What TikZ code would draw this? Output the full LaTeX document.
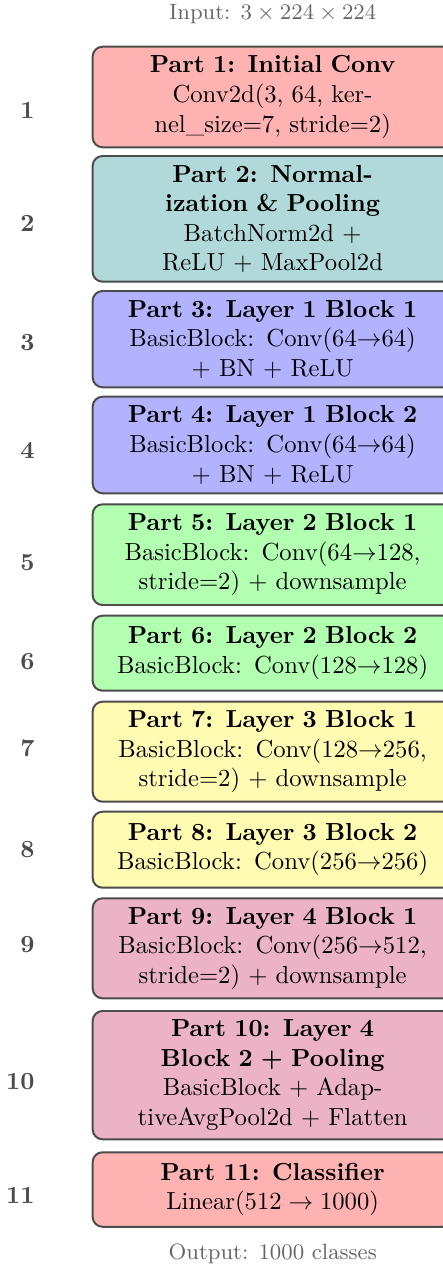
\documentclass[tikz,border=0pt]{standalone}
\usetikzlibrary{positioning}
\def\pxu{0.4057pt}
\begin{document}
\begin{tikzpicture}[x=0.4057pt,y=-0.4057pt,
  part/.style={draw=black!70, line width=0.8pt, rounded corners=4pt,
    text width=142pt, inner xsep=2pt, inner ysep=0pt, align=center, font=\normalsize},
  num/.style={anchor=east, inner sep=0pt, font=\bfseries, text=black!70},
  io/.style={inner sep=0pt, anchor=base, text=black!60, font=\small}]
\useasboundingbox (0,0) rectangle (443,1272);
\node[io] (in) at (272.7,20) {Input: $3 \times 224 \times 224$};
\node[part, fill=red!30, minimum height={100.6*\pxu}] (p1) at (272.6,97) {\textbf{Part 1: Initial Conv}\\Conv2d(3, 64, kernel\_size=7, stride=2)};
\node[part, fill=teal!30, minimum height={125.7*\pxu}] (p2) at (272.6,218.85) {\textbf{Part 2: Normalization \& Pooling}\\BatchNorm2d + ReLU + MaxPool2d};
\node[part, fill=blue!30, minimum height={96.3*\pxu}] (p3) at (272.6,339.15) {\textbf{Part 3: Layer 1 Block 1}\\BasicBlock: Conv(64$\rightarrow$64) + BN + ReLU};
\node[part, fill=blue!30, minimum height={96.6*\pxu}] (p4) at (272.6,445) {\textbf{Part 4: Layer 1 Block 2}\\BasicBlock: Conv(64$\rightarrow$64) + BN + ReLU};
\node[part, fill=green!30, minimum height={100.7*\pxu}] (p5) at (272.6,554.65) {\textbf{Part 5: Layer 2 Block 1}\\BasicBlock: Conv(64$\rightarrow$128, stride=2) + downsample};
\node[part, fill=green!30, minimum height={75*\pxu}] (p6) at (272.6,653.2) {\textbf{Part 6: Layer 2 Block 2}\\BasicBlock: Conv(128$\rightarrow$128)};
\node[part, fill=yellow!30, minimum height={100*\pxu}] (p7) at (272.6,751.7) {\textbf{Part 7: Layer 3 Block 1}\\BasicBlock: Conv(128$\rightarrow$256, stride=2) + downsample};
\node[part, fill=yellow!30, minimum height={76*\pxu}] (p8) at (272.6,849.7) {\textbf{Part 8: Layer 3 Block 2}\\BasicBlock: Conv(256$\rightarrow$256)};
\node[part, fill=purple!30, minimum height={100*\pxu}] (p9) at (272.6,948.3) {\textbf{Part 9: Layer 4 Block 1}\\BasicBlock: Conv(256$\rightarrow$512, stride=2) + downsample};
\node[part, fill=purple!30, minimum height={128.3*\pxu}] (p10) at (272.6,1075.15) {\textbf{Part 10: Layer 4 Block 2 + Pooling}\\BasicBlock + AdaptiveAvgPool2d + Flatten};
\node[part, fill=red!30, minimum height={74.5*\pxu}] (p11) at (272.6,1189.5) {\textbf{Part 11: Classifier}\\Linear($512\mskip5mu{\rightarrow}\mskip5mu1000$)};
\node[io] (out) at (272.7,1259.5) {Output: 1000 classes};
\node[num] (n1) at (35,110) {1};
\node[num] (n2) at (35,223) {2};
\node[num] (n3) at (35,343) {3};
\node[num] (n4) at (35,450) {4};
\node[num] (n5) at (35,563) {5};
\node[num] (n6) at (35,662) {6};
\node[num] (n7) at (35,748) {7};
\node[num] (n8) at (35,850) {8};
\node[num] (n9) at (35,945) {9};
\node[num] (n10) at (35,1082) {10};
\node[num] (n11) at (35,1195) {11};
\end{tikzpicture}
\end{document}
